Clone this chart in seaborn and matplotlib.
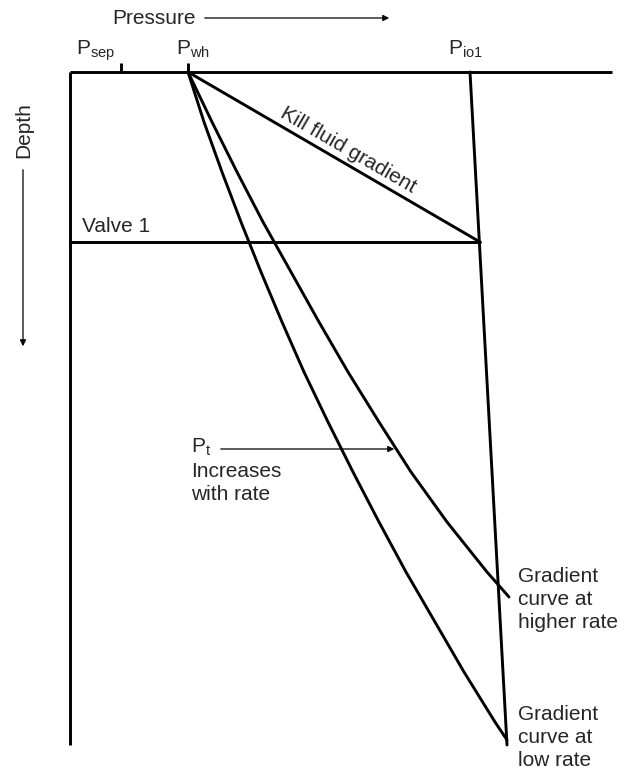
import matplotlib
matplotlib.use("Agg")
import matplotlib.pyplot as plt
import seaborn as sns
import pandas as pd

# ---- data (pressure in arbitrary units, depth increasing downward) ----
surface_depth = 0
total_depth = 673
pressure_max = 542
p_sep = 51
p_wh = 118
p_io1_top = 400
p_io1_bottom = 437
valve_depth = 170
p_valve = 410

high_rate_pressure = [118, 142, 167, 193, 221, 249, 278, 309, 341, 377, 417, 439]
high_rate_depth = [0, 50, 100, 150, 200, 250, 300, 350, 400, 450, 500, 525]
low_rate_pressure = [118, 134, 152, 171, 191, 212, 234, 258, 283, 309, 336, 365, 394, 425, 437]
low_rate_depth = [0, 50, 100, 150, 200, 250, 300, 350, 400, 450, 500, 550, 600, 650, 668]

kill_pressure = [p_wh, p_valve]
kill_depth = [0, valve_depth]

high_rate_label = ['Gradient', 'curve at', 'higher rate']
low_rate_label = ['Gradient', 'curve at', 'low rate']
pt_label = ['Increases', 'with rate']

sns.set_theme(style="white")
plt.rcParams['font.family'] = ['Liberation Sans', 'DejaVu Sans']
plt.rcParams['mathtext.fontset'] = 'custom'
plt.rcParams['mathtext.rm'] = 'Liberation Sans'
plt.rcParams['mathtext.it'] = 'Liberation Sans'

fig = plt.figure(figsize=(6.31, 7.71), dpi=100)
ax = fig.add_axes([0, 0, 1, 1])
ax.set_xlim(-70, 561)
ax.set_ylim(699, -72)
ax.axis('off')

lw = 2.1
k = 'black'

high = pd.DataFrame({'pressure': high_rate_pressure, 'depth': high_rate_depth})
low = pd.DataFrame({'pressure': low_rate_pressure, 'depth': low_rate_depth})
kill = pd.DataFrame({'pressure': kill_pressure, 'depth': kill_depth})
for df in (high, low, kill):
    sns.lineplot(data=df, x='pressure', y='depth', sort=False, estimator=None,
                 color=k, lw=lw, ax=ax)
for line in ax.get_lines():
    line.set_solid_joinstyle('round')

# frame: surface line and depth axis
ax.plot([0, pressure_max], [surface_depth, surface_depth], color=k, lw=lw, solid_capstyle='butt')
ax.plot([0, 0], [surface_depth, total_depth], color=k, lw=lw, solid_capstyle='butt')
# injection pressure line
ax.plot([p_io1_top, p_io1_bottom], [surface_depth, total_depth], color=k, lw=lw)
# valve line
ax.plot([0, p_valve], [valve_depth, valve_depth], color=k, lw=lw)
# ticks
for p in (p_sep, p_wh):
    ax.plot([p, p], [surface_depth, -9], color=k, lw=lw, solid_capstyle='butt')

fs = 15
ax.text(6, -17, r'P$_{\mathrm{sep}}$', fontsize=fs, ha='left', va='baseline')
ax.text(106, -17, r'P$_{\mathrm{wh}}$', fontsize=fs, ha='left', va='baseline')
ax.text(378, -17, r'P$_{\mathrm{io1}}$', fontsize=fs, ha='left', va='baseline')

# Pressure label + arrow
ax.text(42, -48, 'Pressure', fontsize=fs, ha='left', va='baseline')
ax.annotate('', xy=(322, -54), xytext=(132, -54),
            arrowprops=dict(arrowstyle='-|>', color=k, lw=0.9, mutation_scale=9))
# Depth label + arrow
ax.text(-46, 58, 'Depth', fontsize=fs, rotation=90, ha='center', va='center')
ax.annotate('', xy=(-47, 277), xytext=(-47, 95),
            arrowprops=dict(arrowstyle='-|>', color=k, lw=0.9, mutation_scale=9))

ax.text(12, 160, 'Valve 1', fontsize=fs, ha='left', va='baseline')
ax.text(275, 83, 'Kill fluid gradient', fontsize=fs, rotation=-30,
        ha='center', va='baseline', rotation_mode='anchor')

ax.text(121, 381, r'P$_{\mathrm{t}}$', fontsize=fs, ha='left', va='baseline')
for i, s in enumerate(pt_label):
    ax.text(121, 405 + 23 * i, s, fontsize=fs, ha='left', va='baseline')
ax.annotate('', xy=(327, 377), xytext=(148, 377),
            arrowprops=dict(arrowstyle='-|>', color=k, lw=0.9, mutation_scale=9))

for i, s in enumerate(high_rate_label):
    ax.text(448, 510 + 23 * i, s, fontsize=fs, ha='left', va='baseline')
for i, s in enumerate(low_rate_label):
    ax.text(448, 648 + 23 * i, s, fontsize=fs, ha='left', va='baseline')

fig.savefig('out.png', dpi=100, facecolor='white')
